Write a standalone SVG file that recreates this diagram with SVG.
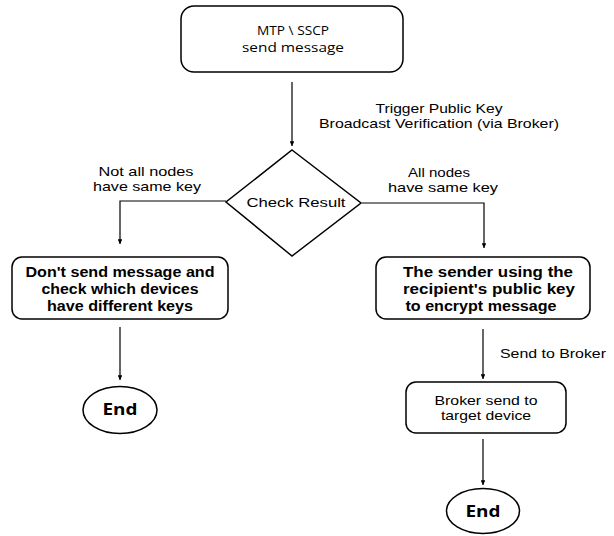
<svg xmlns="http://www.w3.org/2000/svg" width="614" height="536" viewBox="0 0 614 536">
<defs>
<marker id="arr" viewBox="0 0 10 10" refX="10" refY="5" markerWidth="4" markerHeight="4" orient="auto">
<path d="M0,0 L10,5 L0,10 z" fill="#000"/>
</marker>
<style>
.box{fill:#fff;stroke:#000;stroke-width:1.5}
.ln{fill:none;stroke:#000;stroke-width:1.2;marker-end:url(#arr)}
.t{font-family:"Liberation Sans",Arial,sans-serif;font-size:13px;fill:#000;text-anchor:middle}
.b{font-family:"Liberation Sans",Arial,sans-serif;font-size:14px;font-weight:bold;fill:#000;text-anchor:middle}
.o{font-family:"Open Sans","Noto Sans",sans-serif;font-size:12px;fill:#000;text-anchor:middle}
.e{font-family:"Open Sans","Noto Sans",sans-serif;font-size:16px;font-weight:bold;fill:#000;text-anchor:middle}
</style>
</defs>
<rect width="614" height="536" fill="#fff"/>
<g id="connectors">
<path class="ln" d="M292,82 V146"/>
<path class="ln" d="M226,201 H120 V244"/>
<path class="ln" d="M362,203 H484 V248"/>
<path class="ln" d="M120,327 V380"/>
<path class="ln" d="M483,329 V379"/>
<path class="ln" d="M483,439 V485"/>
<text class="t" x="439" y="113" textLength="127" lengthAdjust="spacingAndGlyphs">Trigger Public Key</text>
<text class="t" x="439" y="128" textLength="240" lengthAdjust="spacingAndGlyphs">Broadcast Verification (via Broker)</text>
<text class="t" x="146" y="176" textLength="95" lengthAdjust="spacingAndGlyphs">Not all nodes</text>
<text class="t" x="147" y="191" textLength="108" lengthAdjust="spacingAndGlyphs">have same key</text>
<text class="t" x="439" y="177" textLength="62" lengthAdjust="spacingAndGlyphs">All nodes</text>
<text class="t" x="443" y="192" textLength="110" lengthAdjust="spacingAndGlyphs">have same key</text>
<text class="t" x="553" y="358" textLength="106" lengthAdjust="spacingAndGlyphs">Send to Broker</text>
</g>
<g id="start">
<rect class="box" x="181" y="6" width="222" height="66" rx="13"/>
<text class="o" x="293" y="35" textLength="72" lengthAdjust="spacingAndGlyphs">MTP \ SSCP</text>
<text class="o" x="293" y="52" textLength="102" lengthAdjust="spacingAndGlyphs">send message</text>
</g>
<g id="check">
<polygon class="box" points="292,150 361,203 292,256 226,202"/>
<text class="t" x="296" y="207" textLength="99" lengthAdjust="spacingAndGlyphs">Check Result</text>
</g>
<g id="reject">
<rect class="box" x="12" y="257" width="216" height="62" rx="10"/>
<text class="b" x="120" y="277" textLength="189" lengthAdjust="spacingAndGlyphs">Don't send message and</text>
<text class="b" x="120" y="294" textLength="157" lengthAdjust="spacingAndGlyphs">check which devices</text>
<text class="b" x="120" y="311" textLength="146" lengthAdjust="spacingAndGlyphs">have different keys</text>
</g>
<g id="encrypt">
<rect class="box" x="376" y="257" width="214" height="62" rx="10"/>
<text class="b" x="488" y="277" textLength="170" lengthAdjust="spacingAndGlyphs">The sender using the</text>
<text class="b" x="489" y="294" textLength="172" lengthAdjust="spacingAndGlyphs">recipient's public key</text>
<text class="b" x="481" y="311" textLength="151" lengthAdjust="spacingAndGlyphs">to encrypt message</text>
</g>
<g id="end1">
<ellipse class="box" cx="120" cy="410" rx="37" ry="23.5"/>
<text class="e" x="120" y="415" textLength="35" lengthAdjust="spacingAndGlyphs">End</text>
</g>
<g id="broker">
<rect class="box" x="406" y="382" width="160" height="51" rx="10"/>
<text class="t" x="486" y="405" textLength="103" lengthAdjust="spacingAndGlyphs">Broker send to</text>
<text class="t" x="486" y="420" textLength="90" lengthAdjust="spacingAndGlyphs">target device</text>
</g>
<g id="end2">
<ellipse class="box" cx="483" cy="511" rx="36.5" ry="22.5"/>
<text class="e" x="483" y="517" textLength="35" lengthAdjust="spacingAndGlyphs">End</text>
</g>
</svg>
